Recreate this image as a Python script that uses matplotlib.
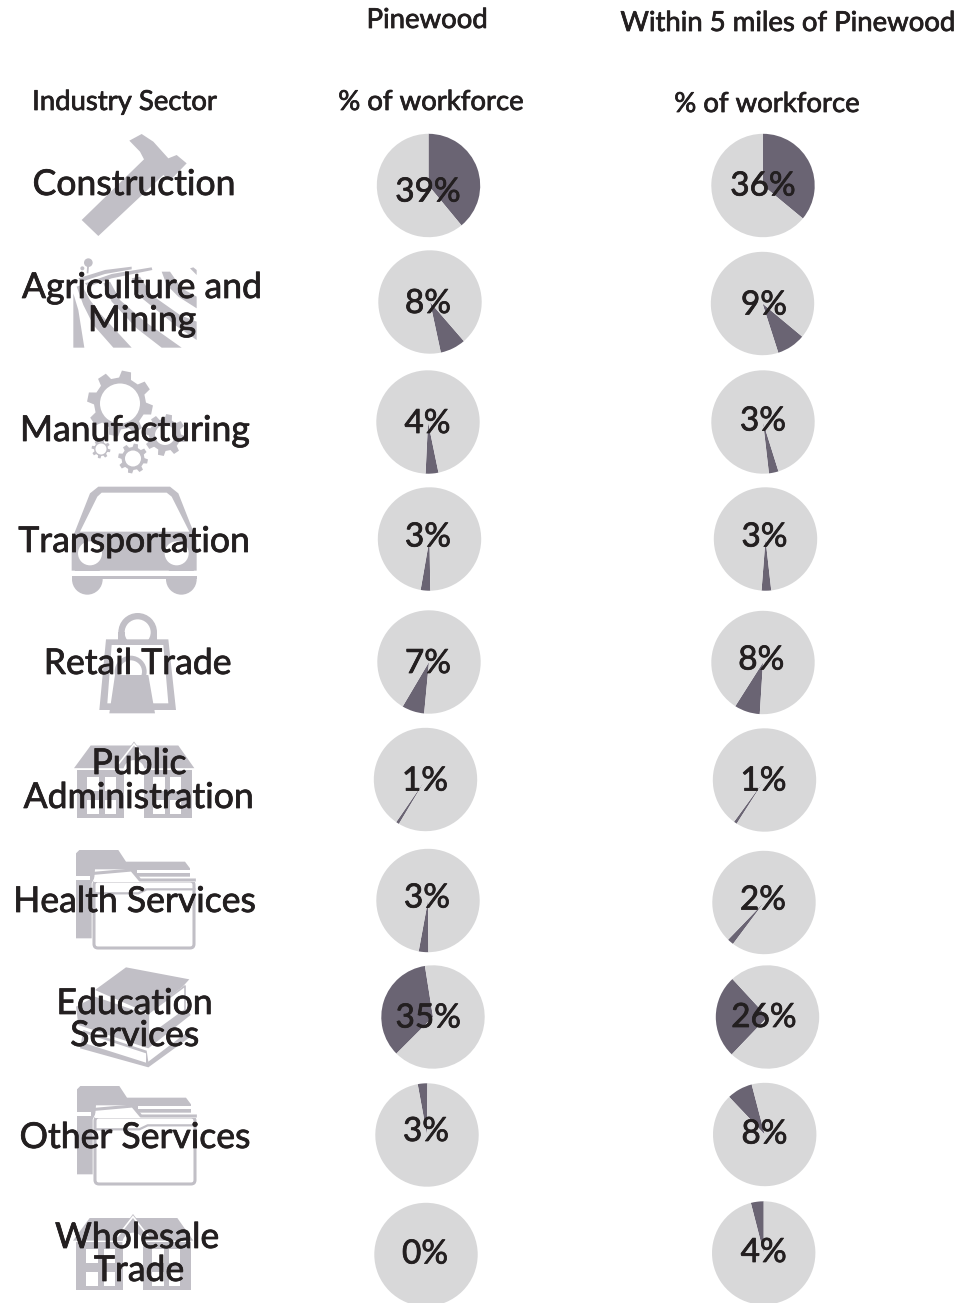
import numpy as np
import matplotlib
matplotlib.use("Agg")
import matplotlib.pyplot as plt
import matplotlib.patheffects as pe
from matplotlib.patches import Polygon, Circle, FancyBboxPatch

W, H = 975, 1303

DARK = "#6a6473"
LIGHT = "#d8d8d9"
ICON = "#c1bfc6"
INK = "#231f20"
FONT = "Lato"

sectors = ["Construction", "Agriculture and\nMining", "Manufacturing", "Transportation",
           "Retail Trade", "Public\nAdministration", "Health Services",
           "Education\nServices", "Other Services", "Wholesale\nTrade"]
pinewood = [39, 8, 4, 3, 7, 1, 3, 35, 3, 0]
nearby = [36, 9, 3, 3, 8, 1, 2, 26, 8, 4]

# clock angle of the middle of each wedge
pine_mid = [70.2, 153.5, 175.5, 184.5, 198, 212.7, 185, 288, 355, 0]
near_mid = [64.8, 146, 168, 179, 198, 214.3, 220.4, 270.5, 331, 352.8]

# pie centres in pixels, and where the percentage sits (centre x, baseline y)
pine_xy = [(428.5, 185.5), (430, 302), (428, 422), (429.5, 539), (429, 662),
           (425.5, 779.5), (428, 900.5), (433, 1017), (427, 1135), (426, 1254.5)]
near_xy = [(763, 185.5), (762.5, 303.5), (763, 422), (765.5, 539), (763, 662.5),
           (764.5, 780), (764, 902.5), (767.5, 1017), (764.7, 1134.5), (763.7, 1253)]
pine_lab = [(428, 201.5), (428, 313), (427.5, 433), (428, 546.5), (428, 673),
            (425, 790.5), (427, 907.5), (428.3, 1027.5), (426, 1141), (425, 1263.5)]
near_lab = [(763, 195.5), (764, 314.5), (763, 430.5), (764.5, 546.5), (761.3, 669.5),
            (763.5, 790.5), (763, 909.5), (764, 1027), (764.5, 1143.5), (763.7, 1262)]
RADIUS = 51.7

# sector label lines: centre x, baseline y of each line
sector_pos = [[(134, 195)], [(142, 298), (142, 331)], [(135, 441)], [(134, 552)],
              [(137.5, 674)], [(139, 774), (138.5, 808)], [(134.5, 912)],
              [(134.5, 1014), (134.7, 1046)], [(135, 1148)], [(137, 1248), (139, 1281)]]

fig = plt.figure(figsize=(W / 100, H / 100), dpi=100)
bg = fig.add_axes([0, 0, 1, 1])
bg.set_xlim(0, W)
bg.set_ylim(H, 0)
bg.axis("off")

# Lato has no medium cut here, so thicken the regular one a little
THICKEN = [pe.withStroke(linewidth=0.55, foreground=INK)]


def px_text(x, y, s, size, ha="center"):
    fig.text(x / W, 1 - y / H, s, fontsize=size, color=INK, family=FONT, ha=ha,
             va="baseline", zorder=5, path_effects=THICKEN)


def poly(pts, x0=0, y0=0, color=ICON, z=1):
    # points are given at 3x scale relative to (x0, y0)
    pts = np.array(pts, dtype=float) / 3 + [x0, y0]
    bg.add_patch(Polygon(pts, closed=True, fc=color, ec="none", zorder=z))


def disc(x, y, r, x0=0, y0=0, color=ICON, z=1):
    bg.add_patch(Circle((x / 3 + x0, y / 3 + y0), r / 3, fc=color, ec="none", zorder=z))


def gear(cx, cy, r_out, r_root, r_hole, teeth, z=1):
    ang = []
    rad = []
    step = 2 * np.pi / teeth
    for i in range(teeth):
        a = i * step + 0.2
        ang += [a - 0.30 * step, a - 0.18 * step, a + 0.18 * step, a + 0.30 * step]
        rad += [r_root, r_out, r_out, r_root]
    ang = np.array(ang)
    rad = np.array(rad)
    pts = np.c_[cx + rad * np.cos(ang), cy + rad * np.sin(ang)]
    bg.add_patch(Polygon(pts, closed=True, fc=ICON, ec="none", zorder=z))
    bg.add_patch(Circle((cx, cy), r_hole, fc="white", ec="none", zorder=z))


def hammer():
    poly([(388, 62), (425, 42), (460, 65), (505, 115), (530, 105), (560, 130), (510, 182),
          (490, 165), (295, 348), (245, 300), (432, 118), (420, 95)], 0, 120)


def fields():
    x0, y0 = 65, 250
    bands = [
        [(25, 293), (58, 293), (40, 180), (25, 130)],
        [(85, 225), (145, 293), (200, 293), (105, 190), (75, 150), (50, 105), (35, 110), (55, 165)],
        [(215, 235), (290, 293), (350, 293), (240, 215), (165, 150), (135, 95), (115, 100), (140, 155)],
        [(330, 225), (395, 270), (395, 215), (345, 195), (260, 135), (225, 80), (200, 85), (225, 140)],
        [(340, 140), (395, 175), (395, 140), (350, 115), (315, 65), (290, 65), (305, 105)],
        [(375, 55), (395, 75), (395, 60), (385, 52)],
        [(40, 85), (120, 60), (200, 50), (200, 58), (120, 72), (50, 95)],
        [(60, 100), (140, 72), (260, 52), (262, 60), (140, 85), (70, 110)],
        [(67, 40), (73, 40), (70, 70), (65, 70)],
    ]
    for b in bands:
        poly(b, x0, y0)
    disc(70, 38, 13, x0, y0)
    disc(52, 55, 6, x0, y0)


def gears():
    gear(120, 403.5, 33, 26, 20, 8)
    gear(165, 435, 21, 16, 10, 8)
    gear(133, 458.5, 15, 11.5, 8, 8)
    gear(101, 449, 9.5, 7, 5.5, 8)


def car():
    y0 = 480
    poly([(215, 272), (215, 180), (270, 40), (295, 20), (510, 20), (535, 40), (590, 180), (590, 272)], 0, y0)
    poly([(240, 155), (292, 50), (305, 38), (500, 38), (515, 50), (568, 155)], 0, y0, "white", 2)
    disc(270, 220, 36, 0, y0, "white", 2)
    disc(530, 220, 36, 0, y0, "white", 2)
    disc(262, 298, 46, 0, y0)
    disc(544, 298, 46, 0, y0)
    poly([(215, 288), (590, 288), (590, 298), (215, 298)], 0, y0)
    # gap between body and bumper, trims the wheels to half discs
    poly([(205, 272), (600, 272), (600, 288), (205, 288)], 0, y0, "white", 2)
    poly([(205, 288), (215, 288), (215, 345), (205, 345)], 0, y0, "white", 2)
    poly([(590, 288), (600, 288), (600, 345), (590, 345)], 0, y0, "white", 2)


def bag():
    y0 = 480
    disc(413, 457, 58, 0, y0)
    disc(413, 457, 39, 0, y0, "white")
    poly([(355, 455), (374, 455), (374, 490), (355, 490)], 0, y0)
    poly([(452, 455), (471, 455), (471, 490), (452, 490)], 0, y0)
    poly([(318, 478), (505, 478), (528, 690), (298, 690)], 0, y0)
    poly([(335, 495), (490, 495), (505, 670), (322, 670)], 0, y0, "white", 2)
    disc(392, 575, 48, 0, y0, z=3)
    disc(392, 575, 34, 0, y0, "white", 3)
    poly([(345, 585), (445, 585), (465, 700), (328, 700)], 0, y0, z=3)


def house(x0, y0):
    # x0, y0 is the tip of the gable
    poly([(-180, 80), (-130, 12), (133, 12), (181, 80)], x0, y0)
    poly([(-60, 80), (0, 0), (60, 80)], x0, y0)
    poly([(-172, 85), (-30, 85), (-30, 228), (-172, 228)], x0, y0)
    poly([(30, 85), (173, 85), (173, 228), (30, 228)], x0, y0)
    poly([(-50, 68), (0, 4), (50, 68), (44, 68), (0, 12), (-44, 68)], x0, y0, "white", 2)
    disc(0, 88, 32, x0, y0, "white", 2)
    for wx in (-140, -87, 58, 108):
        for wy in (105, 175):
            poly([(wx, wy), (wx + 34, wy), (wx + 34, wy + 42), (wx, wy + 42)], x0, y0, "white", 2)


def folder(x0, y0):
    poly([(228, 295), (228, 40), (238, 30), (355, 30), (378, 65), (555, 65), (570, 85),
          (570, 110), (285, 110), (275, 130), (275, 295)], x0, y0)
    poly([(228, 108), (270, 108), (270, 120), (228, 120)], x0, y0, "white", 2)
    poly([(410, 90), (570, 90), (570, 98), (410, 98)], x0, y0, "white", 2)
    bg.add_patch(FancyBboxPatch((x0 + 94, y0 + 41), 100, 67, boxstyle="round,pad=0,rounding_size=4",
                                fc="white", ec=ICON, lw=2.2, zorder=3))
    poly([(285, 88), (395, 88), (420, 118), (585, 118), (585, 126), (282, 126)], x0, y0, "white", 4)
    xs = np.array([282, 395, 420, 583]) / 3 + x0
    ys = np.array([100, 90, 120, 120]) / 3 + y0
    bg.plot(xs, ys, color=ICON, lw=2.2, zorder=5)
    bg.plot(np.array([285, 415, 440, 583]) / 3 + x0, np.array([160, 160, 148, 148]) / 3 + y0,
            color=ICON, lw=1.6, zorder=5)


def books():
    y0 = 840
    poly([(285, 450), (378, 382), (568, 418), (548, 440), (445, 520)], 0, y0)
    poly([(445, 520), (555, 438), (555, 510), (445, 590)], 0, y0, "white", 2)
    bg.plot(np.array([445, 555, 555, 445, 445]) / 3, np.array([520, 438, 510, 590, 520]) / 3 + y0,
            color=ICON, lw=1.2, zorder=2)
    poly([(228, 500), (285, 470), (445, 525), (445, 590), (560, 505), (572, 525), (445, 625),
          (235, 555)], 0, y0)
    poly([(250, 570), (440, 632), (445, 665), (570, 570), (572, 590), (445, 682), (240, 625)], 0, y0)
    poly([(255, 580), (438, 640), (438, 668), (255, 610)], 0, y0, "white", 2)


hammer()
fields()
gears()
car()
bag()
house(134, 741.5)
folder(0, 840)
books()
folder(1, 1076)
house(133, 1214)

for xy_list, vals, mids, labs in [(pine_xy, pinewood, pine_mid, pine_lab),
                                  (near_xy, nearby, near_mid, near_lab)]:
    for (cx, cy), v, mid, (lx, ly) in zip(xy_list, vals, mids, labs):
        ax = fig.add_axes([(cx - RADIUS) / W, 1 - (cy + RADIUS) / H, 2 * RADIUS / W, 2 * RADIUS / H])
        start = mid - v * 1.8
        ax.pie([v, 100 - v], colors=[DARK, LIGHT], startangle=90 - start, counterclock=False,
               radius=1, frame=False)
        ax.set_xlim(-1, 1)
        ax.set_ylim(-1, 1)
        px_text(lx, ly, f"{v}%", 24)

for name, lines in zip(sectors, sector_pos):
    for line, (x, y) in zip(name.split("\n"), lines):
        px_text(x, y, line, 25.6)

px_text(427, 28, "Pinewood", 19.8)
px_text(787.5, 31, "Within 5 miles of Pinewood", 19.8)
px_text(124.5, 110, "Industry Sector", 19.8)
px_text(431, 110, "% of workforce", 19.8)
px_text(767, 112, "% of workforce", 19.8)

fig.savefig("out.png", dpi=100)
